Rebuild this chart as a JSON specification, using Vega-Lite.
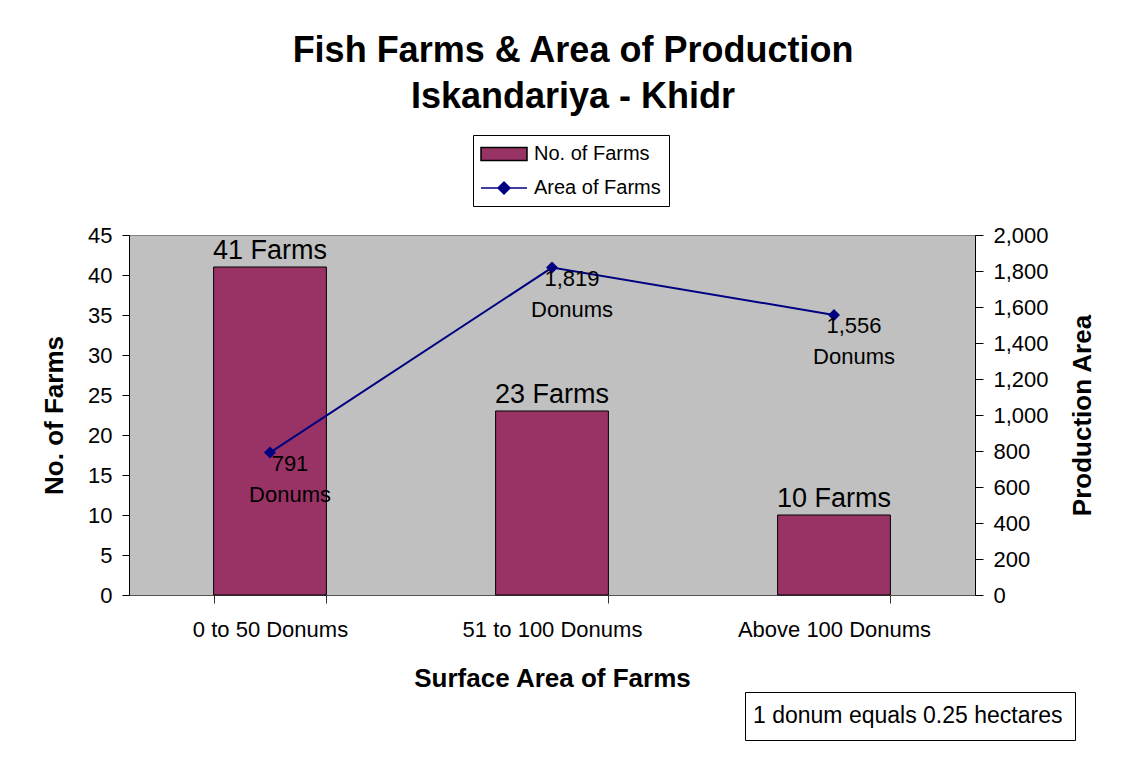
{
  "$schema": "https://vega.github.io/schema/vega-lite/v6.json",
  "width": 846,
  "height": 360,
  "autosize": {"type": "none"},
  "padding": {"left": 129, "top": 235, "right": 158, "bottom": 179},
  "background": "white",
  "title": {
    "text": ["Fish Farms & Area of Production", "Iskandariya - Khidr"],
    "font": "Liberation Sans",
    "fontSize": 36,
    "fontWeight": "bold",
    "color": "black",
    "anchor": "middle",
    "dx": 21,
    "lineHeight": 46,
    "offset": 19
  },
  "config": {
    "view": {"fill": "#C0C0C0", "stroke": "#808080", "strokeWidth": 1},
    "font": "Liberation Sans",
    "axis": {"grid": false, "labelFont": "Liberation Sans", "titleFont": "Liberation Sans", "labelColor": "black", "titleColor": "black", "tickColor": "black", "domainColor": "black", "labelOverlap": false, "labelLimit": 300}
  },
  "data": {
    "values": [
      {"range": "0 to 50 Donums", "farms": 41, "area": 791, "farmsLabel": "41 Farms", "areaLabel": "791\nDonums"},
      {"range": "51 to 100 Donums", "farms": 23, "area": 1819, "farmsLabel": "23 Farms", "areaLabel": "1,819\nDonums"},
      {"range": "Above 100 Donums", "farms": 10, "area": 1556, "farmsLabel": "10 Farms", "areaLabel": "1,556\nDonums"}
    ]
  },
  "encoding": {
    "x": {
      "field": "range", "type": "nominal", "sort": null,
      "scale": {"paddingInner": 0.6, "paddingOuter": 0.3},
      "axis": {
        "title": "Surface Area of Farms", "titleFontSize": 26, "titleFontWeight": "bold", "titlePadding": 25,
        "labelFontSize": 22, "labelAngle": 0, "labelPadding": 16, "tickSize": 8, "tickBand": "extent",
        "domainColor": "#555555", "tickColor": "#333333"
      }
    }
  },
  "layer": [
    {
      "encoding": {
        "y": {
          "field": "farms", "type": "quantitative",
          "scale": {"domain": [0, 45]},
          "axis": {
            "title": "No. of Farms", "titleFontSize": 26, "titleFontWeight": "bold", "titlePadding": 20,
            "labelFontSize": 22, "labelPadding": 10, "tickSize": 7, "values": [0, 5, 10, 15, 20, 25, 30, 35, 40, 45], "format": "d"
          }
        }
      },
      "layer": [
        {
          "mark": {"type": "bar", "strokeWidth": 1},
          "encoding": {
            "color": {
              "datum": "No. of Farms",
              "scale": {"domain": ["No. of Farms", "Area of Farms"], "range": ["#993366", "#000080"]},
              "legend": {
                "title": null, "orient": "none", "legendX": 344, "legendY": -100,
                "strokeColor": "black", "fillColor": "white", "padding": 8,
                "labelFont": "Liberation Sans", "labelFontSize": 20, "labelColor": "black", "labelLimit": 400,
                "symbolSize": 400, "symbolOffset": 12, "labelOffset": 19, "rowPadding": 13, "symbolStrokeWidth": 1.5
              }
            },
            "stroke": {
              "datum": "No. of Farms",
              "scale": {"domain": ["No. of Farms", "Area of Farms"], "range": ["black", "#000080"]},
              "legend": {
                "title": null, "orient": "none", "legendX": 344, "legendY": -100,
                "strokeColor": "black", "fillColor": "white", "padding": 8,
                "labelFont": "Liberation Sans", "labelFontSize": 20, "labelColor": "black", "labelLimit": 400,
                "symbolSize": 400, "symbolOffset": 12, "labelOffset": 19, "rowPadding": 13, "symbolStrokeWidth": 1.5
              }
            },
            "opacity": {
              "datum": "1 donum equals 0.25 hectares",
              "type": "ordinal",
              "scale": {"range": [1]},
              "legend": {
                "title": null, "orient": "none", "legendX": 616, "legendY": 457,
                "strokeColor": "black", "fillColor": "white", "padding": 12,
                "labelFont": "Liberation Sans", "labelFontSize": 23, "labelColor": "black", "labelLimit": 500,
                "symbolSize": 0, "symbolOpacity": 0, "symbolStrokeWidth": 0, "labelOffset": -27
              }
            }
          }
        },
        {
          "mark": {"type": "text", "fontSize": 27, "font": "Liberation Sans", "color": "black", "baseline": "alphabetic", "dy": -8},
          "encoding": {
            "text": {"field": "farmsLabel"}
          }
        }
      ]
    },
    {
      "encoding": {
        "y": {
          "field": "area", "type": "quantitative",
          "scale": {"domain": [0, 2000]},
          "axis": {
            "orient": "right", "title": "Production Area", "titleFontSize": 26, "titleFontWeight": "bold", "titlePadding": 47, "titleAngle": 270,
            "labelFontSize": 22, "labelPadding": 10, "tickSize": 8, "format": ",d",
            "values": [0, 200, 400, 600, 800, 1000, 1200, 1400, 1600, 1800, 2000]
          }
        }
      },
      "layer": [
        {
          "mark": {"type": "line", "strokeWidth": 2, "stroke": "#000080"}
        },
        {
          "mark": {"type": "point", "filled": true, "size": 400, "opacity": 1, "strokeWidth": 0},
          "encoding": {
            "color": {"datum": "Area of Farms"},
            "stroke": {"datum": "Area of Farms"},
            "shape": {
              "datum": "Area of Farms",
              "scale": {"domain": ["No. of Farms", "Area of Farms"], "range": ["M-2.3,-0.65H2.3V0.65H-2.3Z", "M-2.3,0H2.3M0,-0.6L0.6,0L0,0.6L-0.6,0Z"]},
              "legend": {
                "title": null, "orient": "none", "legendX": 344, "legendY": -100,
                "strokeColor": "black", "fillColor": "white", "padding": 8,
                "labelFont": "Liberation Sans", "labelFontSize": 20, "labelColor": "black", "labelLimit": 400,
                "symbolSize": 400, "symbolOffset": 12, "labelOffset": 19, "rowPadding": 13, "symbolStrokeWidth": 1.5
              }
            }
          }
        },
        {
          "mark": {"type": "text", "fontSize": 22, "font": "Liberation Sans", "color": "black", "align": "center", "baseline": "alphabetic", "dx": 20, "dy": 18, "lineBreak": "\n", "lineHeight": 31},
          "encoding": {
            "text": {"field": "areaLabel"}
          }
        }
      ]
    }
  ],
  "resolve": {"scale": {"y": "independent"}}
}
